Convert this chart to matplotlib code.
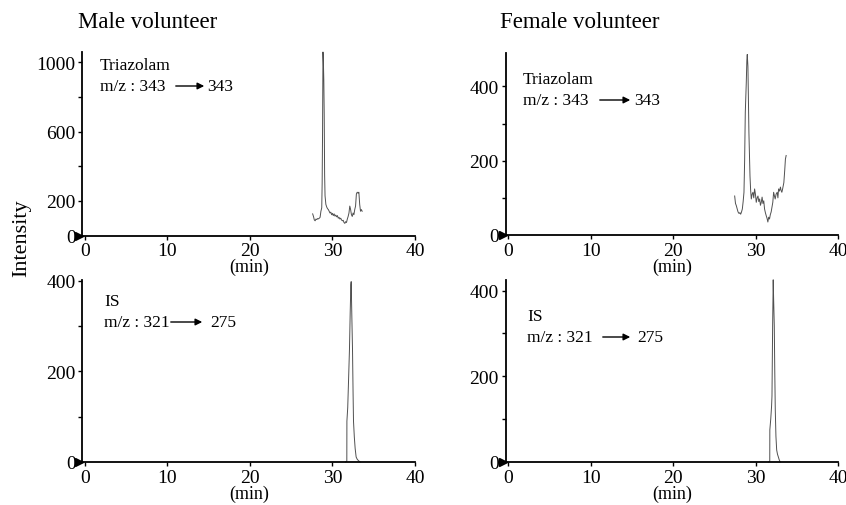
import matplotlib.pyplot as plt
import matplotlib.transforms as mtransforms
from matplotlib.patches import FancyArrowPatch

plt.rcParams['font.family'] = ['Liberation Serif', 'DejaVu Serif']

# ---- data (time in min, intensity) ----
male_tz_t = [27.6, 27.7, 27.8, 27.9, 28.0, 28.1, 28.2, 28.3, 28.4, 28.5, 28.6, 28.7,
             28.75, 28.8, 28.85, 28.9, 28.95, 29.0, 29.05, 29.1, 29.2, 29.3, 29.4, 29.5,
             29.6, 29.7, 29.8, 29.9, 30.0, 30.1, 30.2, 30.3, 30.4, 30.5, 30.6, 30.7,
             30.8, 30.9, 31.0, 31.1, 31.2, 31.3, 31.4, 31.5, 31.6, 31.7, 31.8, 31.9,
             32.0, 32.1, 32.2, 32.3, 32.4, 32.5, 32.6, 32.7, 32.8, 32.9, 33.0, 33.1,
             33.2, 33.3, 33.4, 33.5, 33.6]
male_tz_y = [125, 110, 90, 85, 95, 92, 98, 96, 100, 105, 140, 160,
             300, 600, 1060, 1000, 900, 700, 350, 230, 180, 165, 155, 150,
             140, 130, 135, 120, 128, 115, 125, 112, 118, 108, 115, 100,
             105, 95, 100, 90, 85, 88, 75, 70, 80, 75, 95, 110,
             130, 170, 150, 120, 110, 130, 120, 150, 170, 240, 250, 245,
             250, 180, 140, 150, 140]

female_tz_t = [27.47, 27.57, 27.67, 27.78, 27.88, 28.0, 28.1, 28.2, 28.3, 28.4, 28.5,
               28.6, 28.68, 28.76, 28.88, 28.95, 29.0, 29.08, 29.2, 29.33, 29.41, 29.49,
               29.59, 29.69, 29.79, 29.89, 29.99, 30.09, 30.2, 30.3, 30.4, 30.5, 30.6,
               30.7, 30.8, 30.9, 31.0, 31.1, 31.2, 31.3, 31.4, 31.5, 31.6, 31.7, 31.8,
               31.9, 32.0, 32.1, 32.2, 32.3, 32.39, 32.5, 32.63, 32.72, 32.8, 32.9,
               33.03, 33.1, 33.2, 33.3, 33.44, 33.55, 33.63, 33.72]
female_tz_y = [105, 85, 79, 70, 62, 58, 60, 56, 62, 70, 90,
               115, 200, 330, 410, 470, 486, 454, 276, 159, 120, 97,
               110, 115, 100, 124, 110, 88, 100, 105, 90, 97, 80,
               88, 102, 85, 92, 70, 60, 52, 45, 35, 48, 43, 55,
               62, 75, 88, 115, 105, 97, 110, 115, 100, 124, 118,
               129, 120, 115, 125, 141, 175, 204, 214]

male_is_t = [31.6, 31.74, 31.75, 31.85, 31.95, 32.06, 32.15, 32.23, 32.27, 32.35,
             32.43, 32.5, 32.55, 32.65, 32.75, 32.87, 33.0, 33.15, 33.35]
male_is_y = [0, 2, 90, 120, 180, 248, 330, 391, 398, 320,
             248, 150, 90, 55, 30, 11, 6, 3, 0]

female_is_t = [31.6, 31.73, 31.74, 31.85, 31.95, 32.0, 32.08, 32.15, 32.2, 32.28,
               32.34, 32.4, 32.48, 32.57, 32.67, 32.77, 32.88, 33.0]
female_is_y = [0, 2, 75, 100, 130, 154, 318, 425, 380, 318,
               210, 122, 60, 28, 18, 12, 5, 0]

x_ticks = [0, 10, 20, 30, 40]

panels = [
    # (t, y, ylim top, ticks, tick labels, axes rect)
    (male_tz_t, male_tz_y, 1060, [0, 200, 400, 600, 800, 1000],
     ['0', '200', '', '600', '', '1000'], [0.0975, 0.5326, 0.393, 0.3626]),
    (female_tz_t, female_tz_y, 490, [0, 100, 200, 300, 400],
     ['0', '', '200', '', '400'], [0.598, 0.5336, 0.3924, 0.3597]),
    (male_is_t, male_is_y, 402, [0, 100, 200, 300, 400],
     ['0', '', '200', '', '400'], [0.0975, 0.085, 0.393, 0.3600]),
    (female_is_t, female_is_y, 425, [0, 100, 200, 300, 400],
     ['0', '', '200', '', '400'], [0.598, 0.085, 0.3924, 0.3600]),
]

fig = plt.figure(figsize=(8.46, 5.06), dpi=100)

for t, y, ytop, yt, ytl, rect in panels:
    ax = fig.add_axes(rect)
    ax.plot(t, y, color='#505050', lw=0.7, clip_on=False)
    ax.set_xlim(-0.3, 40)
    ax.set_ylim(0, ytop)
    ax.set_xticks(x_ticks)
    ax.set_yticks(yt)
    ax.set_yticklabels(ytl)
    for s in ['top', 'right']:
        ax.spines[s].set_visible(False)
    ax.spines['left'].set_linewidth(1.3)
    ax.spines['bottom'].set_linewidth(1.3)
    ax.tick_params(direction='out', length=3, width=1, labelsize=14, pad=2)
    ax.set_xlabel('(min)', fontsize=13, labelpad=-1)
    # black pointer at the zero level
    tr = mtransforms.offset_copy(ax.transAxes, fig=fig, x=-3, y=0, units='dots')
    ax.plot([0], [0], marker='>', color='k', ms=6, transform=tr, clip_on=False)


def trace_label(x, y, name, mz_from, mz_to, ax0, ax1, txt_to):
    # positions in figure pixels (846 x 506)
    fig.text(x / 846, 1 - y / 506, name, fontsize=12.5, va='center', ha='left')
    yy = 1 - (y + 21) / 506
    fig.text(x / 846, yy, 'm/z : ' + mz_from, fontsize=12.5, va='center', ha='left')
    fig.add_artist(FancyArrowPatch(
        (ax0 / 846, yy), (ax1 / 846, yy), transform=fig.transFigure,
        arrowstyle='-|>', mutation_scale=10, lw=1, color='k'))
    fig.text(txt_to / 846, yy, mz_to, fontsize=12.5, va='center', ha='left')


trace_label(100, 66, 'Triazolam', '343', '343', 173, 207, 207)
trace_label(523, 80, 'Triazolam', '343', '343', 597, 633, 634)
trace_label(104, 302, 'IS', '321', '275', 168, 205, 210)
trace_label(527, 317, 'IS', '321', '275', 600, 633, 637)

fig.text(78 / 846, 1 - 23 / 506, 'Male volunteer', fontsize=16.5, va='center', ha='left')
fig.text(500 / 846, 1 - 23 / 506, 'Female volunteer', fontsize=16.5, va='center', ha='left')
fig.text(22 / 846, 1 - 238 / 506, 'Intensity', fontsize=16, rotation=90,
         va='center', ha='center')

fig.savefig('out.png', dpi=100)
